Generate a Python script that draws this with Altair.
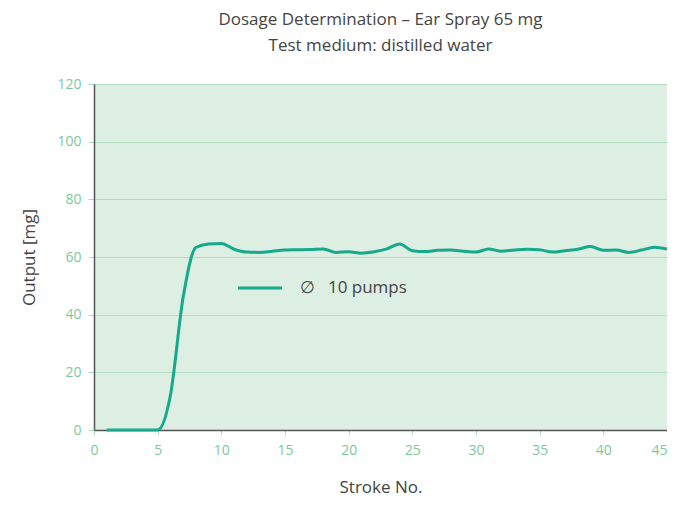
import altair as alt
import pandas as pd

strokes = list(range(1, 46))
output_mg = [0, 0, 0, 0, 0, 12, 46, 63.3, 64.5, 64.7,
             62.7, 61.7, 61.6, 62, 62.4, 62.5, 62.6, 62.8, 61.6, 61.8,
             61.3, 61.8, 62.8, 64.5, 62.2, 61.9, 62.3, 62.4, 62, 61.7,
             62.8, 62, 62.4, 62.7, 62.5, 61.7, 62.2, 62.7, 63.6, 62.3,
             62.4, 61.6, 62.4, 63.4, 62.8]
series_name = "\u2205\u2002 10 pumps"
title_lines = ["Dosage Determination \u2013 Ear Spray 65 mg", "Test medium: distilled water"]
x_title = "Stroke No."
y_title = "Output [mg]"
x_ticks = list(range(0, 46, 5))
y_ticks = list(range(0, 121, 20))

df = pd.DataFrame({"stroke": strokes, "output": output_mg, "series": [series_name] * len(strokes)})

FONT = "Open Sans"
GREEN_LBL = "#7cc99d"
GRID = "#b0dbbf"
LINE = "#16a98a"
DARK = "#444444"

chart = alt.Chart(df).mark_line(interpolate="monotone", strokeWidth=3).encode(
    x=alt.X("stroke:Q", scale=alt.Scale(domain=[0, 45], nice=False),
            axis=alt.Axis(title=x_title, values=x_ticks, grid=False,
                          domainColor="#555555", domainWidth=1.5,
                          tickColor=GRID, tickSize=5, labelColor=GREEN_LBL,
                          labelFontSize=14, labelPadding=8, labelFont=FONT,
                          labelAlign=alt.ExprRef(expr="datum.value == 45 ? 'right' : 'center'"),
                          titleFont=FONT, titleFontSize=17, titleColor=DARK,
                          titleFontWeight="normal", titlePadding=22)),
    y=alt.Y("output:Q", scale=alt.Scale(domain=[0, 120], nice=False),
            axis=alt.Axis(title=y_title, values=y_ticks, grid=True,
                          gridColor=GRID, gridWidth=1.2,
                          domainColor="#555555", domainWidth=1.5,
                          tickColor=GRID, tickSize=6, labelColor=GREEN_LBL,
                          labelFontSize=14, labelPadding=7, labelFont=FONT,
                          titleFont=FONT, titleFontSize=17, titleColor=DARK,
                          titleFontWeight="normal", titlePadding=18)),
    color=alt.Color("series:N", scale=alt.Scale(range=[LINE]),
                    legend=alt.Legend(title=None, orient="none", legendX=142, legendY=180,
                                      symbolType="stroke", symbolSize=1950, symbolStrokeWidth=3,
                                      labelFontSize=17, labelColor=DARK, labelFont=FONT,
                                      labelOffset=16)),
).properties(
    width=573, height=346,
    title=alt.TitleParams(text=title_lines, font=FONT, fontSize=17, color=DARK,
                          fontWeight="normal", anchor="middle", lineHeight=26, offset=22),
    autosize=alt.AutoSizeParams(type="none"),
    padding={"left": 86, "top": 76, "right": 0, "bottom": 67},
).configure_view(fill="#ddeee2", strokeWidth=0)

chart.save("out.html", embed_options={"renderer": "svg", "actions": False})
